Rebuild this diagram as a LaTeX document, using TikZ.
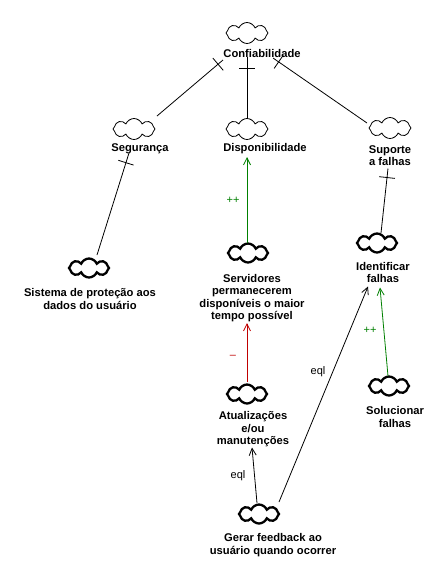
\documentclass[tikz,border=0pt]{standalone}
\usepackage{fontspec}
\setmainfont{Liberation Sans}
\usetikzlibrary{shapes.symbols,arrows.meta,calc}
\definecolor{lkgreen}{RGB}{0,128,0}
\definecolor{lkred}{RGB}{192,0,0}
\begin{document}
\begin{tikzpicture}[x=1pt,y=-1pt,
  softthin/.style={cloud,cloud puffs=8,cloud puff arc=135,aspect=2.1,draw,line width=0.8pt,minimum width=42pt,minimum height=21pt,inner sep=0pt},
  softthick/.style={softthin,line width=2.3pt,minimum width=40pt,minimum height=19pt},
  lbl/.style={font=\bfseries\fontsize{11.2}{12.5}\selectfont,align=center,inner sep=1pt},
  lnk/.style={line width=0.8pt},
  arr/.style={lnk,-{Straight Barb[length=7pt,width=7pt,line width=0.8pt]}},
  tickmark/.style={sloped,inner sep=0pt,outer sep=0pt},
  elbl/.style={font=\fontsize{11}{12.5}\selectfont,inner sep=0pt}
]
\useasboundingbox[fill=white] (0,0) rectangle (435,576);

% clouds
\node[softthin]  (c1)  at (247,33)  {};
\node[softthin]  (c2)  at (134,129) {};
\node[softthin]  (c3)  at (247,129) {};
\node[softthin]  (c4)  at (390,128) {};
\node[softthick] (c5)  at (89,268)  {};
\node[softthick] (c6)  at (248,253) {};
\node[softthick] (c7)  at (247,394) {};
\node[softthick] (c8)  at (377,243) {};
\node[softthick] (c9)  at (389,386) {};
\node[softthick] (c10) at (259,514) {};

% labels
\node[lbl] (l1)  at (262,53)  {Confiabilidade};
\node[lbl] (l2)  at (140,149) {Segurança};
\node[lbl] (l3)  at (265,149) {Disponibilidade};
\node[lbl] (l4)  at (390,155.5) {Suporte\\a falhas};
\node[lbl] (l5)  at (90,299)  {Sistema de proteção aos\\dados do usuário};
\node[lbl] (l6)  at (252,298) {Servidores\\permanecerem\\disponíveis o maior\\tempo possível};
\node[lbl] (l7)  at (253,429.5) {Atualizações\\e/ou\\manutenções};
\node[lbl] (l8)  at (383,272.5) {Identificar\\falhas};
\node[lbl] (l9)  at (395,417) {Solucionar\\falhas};
\node[lbl] (l10) at (273,545) {Gerar feedback ao\\usuário quando ocorrer};

% decomposition links with ticks
\draw[lnk] ([shift={(-39,7)}]l1.center) -- node[tickmark,pos=0.075] (t1) {\rule{0.8pt}{16pt}} ([shift={(23,-13)}]c2.center);
\draw[lnk] ([shift={(-15,4)}]l1.center) -- node[tickmark,pos=0.18] (t2) {\rule{0.8pt}{16pt}} ([shift={(0,-10)}]c3.center);
\draw[lnk] ([shift={(11,5)}]l1.center) -- node[tickmark,pos=0.06] (t3) {\rule{0.8pt}{16pt}} ([shift={(-23,-5)}]c4.center);
\draw[lnk] ([shift={(-11,4)}]l2.center) -- node[tickmark,pos=0.095] (t4) {\rule{0.8pt}{16pt}} ([shift={(8,-13)}]c5.center);
\draw[lnk] ([shift={(-2,13)}]l4.center) -- node[tickmark,pos=0.14] (t5) {\rule{0.8pt}{16pt}} ([shift={(4,-10)}]c8.center);

% contribution arrows
\draw[arr,lkgreen] ([shift={(-1,-10)}]c6.center) -- ([shift={(-18,8)}]l3.center);
\draw[arr,lkred] ([shift={(0,-12)}]c7.center) -- ([shift={(-5,25)}]l6.center);
\draw[arr] ([shift={(-2,-11)}]c10.center) -- ([shift={(-1,18)}]l7.center);
\draw[arr] ([shift={(20,-12)}]c10.center) -- ([shift={(-15,14)}]l8.center);
\draw[arr,lkgreen] ([shift={(-1,-10)}]c9.center) -- ([shift={(-3,15)}]l8.center);

% arrow labels
\node[elbl,text=lkgreen] (e1) at (233,200) {++};
\node[elbl,text=lkred]   (e2) at (233,357) {–};
\node[elbl]              (e3) at (238,476) {eql};
\node[elbl]              (e4) at (318,372) {eql};
\node[elbl,text=lkgreen] (e5) at (370,330) {++};
\end{tikzpicture}
\end{document}
